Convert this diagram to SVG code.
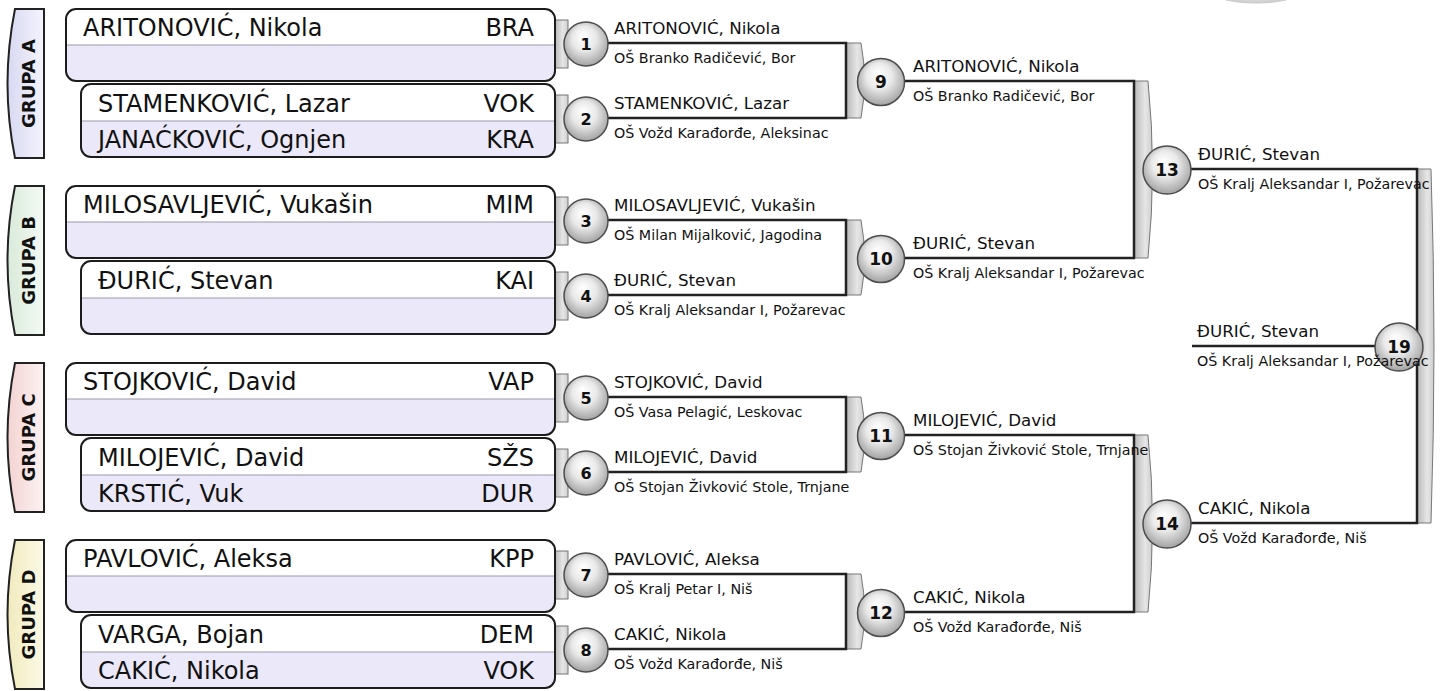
<svg xmlns="http://www.w3.org/2000/svg" width="1448" height="691" viewBox="0 0 1448 691">
<defs>
<radialGradient id="gc" cx="50%" cy="45%" r="55%" fx="42%" fy="30%">
<stop offset="0" stop-color="#ffffff"/>
<stop offset="0.5" stop-color="#e9e9e9"/>
<stop offset="1" stop-color="#a3a3a3"/>
</radialGradient>
<linearGradient id="gb" x1="0" y1="0" x2="1" y2="0">
<stop offset="0" stop-color="#b8b8b8"/>
<stop offset="0.6" stop-color="#e6e6e6"/>
<stop offset="1" stop-color="#cdcdcd"/>
</linearGradient>
<linearGradient id="tA" x1="0" y1="0" x2="1" y2="0"><stop offset="0" stop-color="#d8d8f2"/><stop offset="1" stop-color="#f4f4fe"/></linearGradient>
<linearGradient id="tB" x1="0" y1="0" x2="1" y2="0"><stop offset="0" stop-color="#d9eadb"/><stop offset="1" stop-color="#f4faf4"/></linearGradient>
<linearGradient id="tC" x1="0" y1="0" x2="1" y2="0"><stop offset="0" stop-color="#f3d3d3"/><stop offset="1" stop-color="#fdf2f2"/></linearGradient>
<linearGradient id="tD" x1="0" y1="0" x2="1" y2="0"><stop offset="0" stop-color="#f1eabf"/><stop offset="1" stop-color="#fcfae6"/></linearGradient>
</defs>
<style>
text{font-family:'DejaVu Sans','Liberation Sans',sans-serif;fill:#111}
.tab{stroke:#222;stroke-width:2}
.gt{font-weight:bold;font-size:18px;text-anchor:middle}
.bot{fill:#ebe8f9}
.top{fill:#ffffff}
.dv{stroke:#9a98ab;stroke-width:1}
.bx{fill:none;stroke:#1c1c1c;stroke-width:2}
.nm{font-size:24px}
.cd{font-size:24px;text-anchor:end}
.ln{fill:none;stroke:#222;stroke-width:2.5}
.br{fill:url(#gb);stroke:#777;stroke-width:1}
.cc{fill:url(#gc);stroke:#4d4d4d;stroke-width:1.5}
.num{font-weight:bold;font-size:16px;text-anchor:middle}
.num2{font-weight:bold;font-size:17px;text-anchor:middle}
.pn{font-size:16.7px}
.sc{font-size:14.3px}
</style>
<rect x="0" y="0" width="1448" height="691" fill="#ffffff"/>
<ellipse cx="1256" cy="-6" rx="40" ry="9" fill="url(#gc)" stroke="#aaa" stroke-width="1" opacity="0.6"/>

<g id="connectors">
<rect class="br" x="555" y="20" width="13" height="48"/>
<rect class="br" x="555" y="95" width="13" height="48"/>
<rect class="br" x="555" y="197" width="13" height="48"/>
<rect class="br" x="555" y="272" width="13" height="48"/>
<rect class="br" x="555" y="374" width="13" height="48"/>
<rect class="br" x="555" y="449" width="13" height="48"/>
<rect class="br" x="555" y="551" width="13" height="48"/>
<rect class="br" x="555" y="626" width="13" height="48"/>
<path class="br" d="M846,43 H861 Q868,80.5 861,118 H846 Z"/>
<path class="br" d="M846,220 H861 Q868,257.5 861,295 H846 Z"/>
<path class="br" d="M846,397 H861 Q868,434.5 861,472 H846 Z"/>
<path class="br" d="M846,574 H861 Q868,611.5 861,649 H846 Z"/>
<path class="br" d="M1134,81 H1148 Q1157,169.5 1148,258 H1134 Z"/>
<path class="br" d="M1134,435 H1148 Q1157,523.5 1148,612 H1134 Z"/>
<path class="br" d="M1417,169 H1431 Q1437,346 1431,523 H1417 Z"/>
<path class="ln" d="M600,43 H846 V118 H600"/>
<path class="ln" d="M600,220 H846 V295 H600"/>
<path class="ln" d="M600,397 H846 V472 H600"/>
<path class="ln" d="M600,574 H846 V649 H600"/>
<path class="ln" d="M895,81 H1134 V258 H895"/>
<path class="ln" d="M895,435 H1134 V612 H895"/>
<path class="ln" d="M1180,169 H1417 V523 H1180"/>
<path class="ln" d="M1192,346 H1390"/>
</g>

<g id="grupa-a">
<g id="tab-a"><path class="tab" fill="url(#tA)" d="M44,9 H15 Q0,83.5 15,158 H44 Z"/><text class="gt" x="35" y="83.5" transform="rotate(-90 35 83.5)">GRUPA A</text></g>
<g id="box-a1"><rect class="bot" x="66" y="9" width="489" height="72" rx="10"/><path class="top" d="M76,9 H545 Q555,9 555,19 V45 H66 V19 Q66,9 76,9 Z"/><line class="dv" x1="66" y1="45" x2="555" y2="45"/><rect class="bx" x="66" y="9" width="489" height="72" rx="10"/>
<text class="nm" x="83" y="36">ARITONOVIĆ, Nikola</text><text class="cd" x="534" y="36">BRA</text></g>
<g id="box-a2"><rect class="bot" x="81" y="84" width="474" height="73" rx="10"/><path class="top" d="M91,84 H545 Q555,84 555,94 V121 H81 V94 Q81,84 91,84 Z"/><line class="dv" x1="81" y1="121" x2="555" y2="121"/><rect class="bx" x="81" y="84" width="474" height="73" rx="10"/>
<text class="nm" x="98" y="112">STAMENKOVIĆ, Lazar</text><text class="cd" x="534" y="112">VOK</text>
<text class="nm" x="98" y="148">JANAĆKOVIĆ, Ognjen</text><text class="cd" x="534" y="148">KRA</text></g>
</g>

<g id="grupa-b" transform="translate(0,177)">
<g id="tab-b"><path class="tab" fill="url(#tB)" d="M44,9 H15 Q0,83.5 15,158 H44 Z"/><text class="gt" x="35" y="83.5" transform="rotate(-90 35 83.5)">GRUPA B</text></g>
<g id="box-b1"><rect class="bot" x="66" y="9" width="489" height="72" rx="10"/><path class="top" d="M76,9 H545 Q555,9 555,19 V45 H66 V19 Q66,9 76,9 Z"/><line class="dv" x1="66" y1="45" x2="555" y2="45"/><rect class="bx" x="66" y="9" width="489" height="72" rx="10"/>
<text class="nm" x="83" y="36">MILOSAVLJEVIĆ, Vukašin</text><text class="cd" x="534" y="36">MIM</text></g>
<g id="box-b2"><rect class="bot" x="81" y="84" width="474" height="73" rx="10"/><path class="top" d="M91,84 H545 Q555,84 555,94 V121 H81 V94 Q81,84 91,84 Z"/><line class="dv" x1="81" y1="121" x2="555" y2="121"/><rect class="bx" x="81" y="84" width="474" height="73" rx="10"/>
<text class="nm" x="98" y="112">ĐURIĆ, Stevan</text><text class="cd" x="534" y="112">KAI</text></g>
</g>

<g id="grupa-c" transform="translate(0,354)">
<g id="tab-c"><path class="tab" fill="url(#tC)" d="M44,9 H15 Q0,83.5 15,158 H44 Z"/><text class="gt" x="35" y="83.5" transform="rotate(-90 35 83.5)">GRUPA C</text></g>
<g id="box-c1"><rect class="bot" x="66" y="9" width="489" height="72" rx="10"/><path class="top" d="M76,9 H545 Q555,9 555,19 V45 H66 V19 Q66,9 76,9 Z"/><line class="dv" x1="66" y1="45" x2="555" y2="45"/><rect class="bx" x="66" y="9" width="489" height="72" rx="10"/>
<text class="nm" x="83" y="36">STOJKOVIĆ, David</text><text class="cd" x="534" y="36">VAP</text></g>
<g id="box-c2"><rect class="bot" x="81" y="84" width="474" height="73" rx="10"/><path class="top" d="M91,84 H545 Q555,84 555,94 V121 H81 V94 Q81,84 91,84 Z"/><line class="dv" x1="81" y1="121" x2="555" y2="121"/><rect class="bx" x="81" y="84" width="474" height="73" rx="10"/>
<text class="nm" x="98" y="112">MILOJEVIĆ, David</text><text class="cd" x="534" y="112">SŽS</text>
<text class="nm" x="98" y="148">KRSTIĆ, Vuk</text><text class="cd" x="534" y="148">DUR</text></g>
</g>

<g id="grupa-d" transform="translate(0,531)">
<g id="tab-d"><path class="tab" fill="url(#tD)" d="M44,9 H15 Q0,83.5 15,158 H44 Z"/><text class="gt" x="35" y="83.5" transform="rotate(-90 35 83.5)">GRUPA D</text></g>
<g id="box-d1"><rect class="bot" x="66" y="9" width="489" height="72" rx="10"/><path class="top" d="M76,9 H545 Q555,9 555,19 V45 H66 V19 Q66,9 76,9 Z"/><line class="dv" x1="66" y1="45" x2="555" y2="45"/><rect class="bx" x="66" y="9" width="489" height="72" rx="10"/>
<text class="nm" x="83" y="36">PAVLOVIĆ, Aleksa</text><text class="cd" x="534" y="36">KPP</text></g>
<g id="box-d2"><rect class="bot" x="81" y="84" width="474" height="73" rx="10"/><path class="top" d="M91,84 H545 Q555,84 555,94 V121 H81 V94 Q81,84 91,84 Z"/><line class="dv" x1="81" y1="121" x2="555" y2="121"/><rect class="bx" x="81" y="84" width="474" height="73" rx="10"/>
<text class="nm" x="98" y="112">VARGA, Bojan</text><text class="cd" x="534" y="112">DEM</text>
<text class="nm" x="98" y="148">CAKIĆ, Nikola</text><text class="cd" x="534" y="148">VOK</text></g>
</g>

<g id="m1"><circle class="cc" cx="586" cy="44" r="22"/><text class="num" x="586" y="50">1</text><text class="pn" x="614" y="34">ARITONOVIĆ, Nikola</text><text class="sc" x="614" y="63">OŠ Branko Radičević, Bor</text></g>
<g id="m2"><circle class="cc" cx="586" cy="119" r="22"/><text class="num" x="586" y="125">2</text><text class="pn" x="614" y="109">STAMENKOVIĆ, Lazar</text><text class="sc" x="614" y="138">OŠ Vožd Karađorđe, Aleksinac</text></g>
<g id="m3"><circle class="cc" cx="586" cy="221" r="22"/><text class="num" x="586" y="227">3</text><text class="pn" x="614" y="211">MILOSAVLJEVIĆ, Vukašin</text><text class="sc" x="614" y="240">OŠ Milan Mijalković, Jagodina</text></g>
<g id="m4"><circle class="cc" cx="586" cy="296" r="22"/><text class="num" x="586" y="302">4</text><text class="pn" x="614" y="286">ĐURIĆ, Stevan</text><text class="sc" x="614" y="315">OŠ Kralj Aleksandar I, Požarevac</text></g>
<g id="m5"><circle class="cc" cx="586" cy="398" r="22"/><text class="num" x="586" y="404">5</text><text class="pn" x="614" y="388">STOJKOVIĆ, David</text><text class="sc" x="614" y="417">OŠ Vasa Pelagić, Leskovac</text></g>
<g id="m6"><circle class="cc" cx="586" cy="473" r="22"/><text class="num" x="586" y="479">6</text><text class="pn" x="614" y="463">MILOJEVIĆ, David</text><text class="sc" x="614" y="492">OŠ Stojan Živković Stole, Trnjane</text></g>
<g id="m7"><circle class="cc" cx="586" cy="575" r="22"/><text class="num" x="586" y="581">7</text><text class="pn" x="614" y="565">PAVLOVIĆ, Aleksa</text><text class="sc" x="614" y="594">OŠ Kralj Petar I, Niš</text></g>
<g id="m8"><circle class="cc" cx="586" cy="650" r="22"/><text class="num" x="586" y="656">8</text><text class="pn" x="614" y="640">CAKIĆ, Nikola</text><text class="sc" x="614" y="669">OŠ Vožd Karađorđe, Niš</text></g>
<g id="m9"><circle class="cc" cx="881" cy="82" r="23.5"/><text class="num2" x="881" y="88">9</text><text class="pn" x="913" y="72">ARITONOVIĆ, Nikola</text><text class="sc" x="913" y="101">OŠ Branko Radičević, Bor</text></g>
<g id="m10"><circle class="cc" cx="881" cy="259" r="23.5"/><text class="num2" x="881" y="265">10</text><text class="pn" x="913" y="249">ĐURIĆ, Stevan</text><text class="sc" x="913" y="278">OŠ Kralj Aleksandar I, Požarevac</text></g>
<g id="m11"><circle class="cc" cx="881" cy="436" r="23.5"/><text class="num2" x="881" y="442">11</text><text class="pn" x="913" y="426">MILOJEVIĆ, David</text><text class="sc" x="913" y="455">OŠ Stojan Živković Stole, Trnjane</text></g>
<g id="m12"><circle class="cc" cx="881" cy="613" r="23.5"/><text class="num2" x="881" y="619">12</text><text class="pn" x="913" y="603">CAKIĆ, Nikola</text><text class="sc" x="913" y="632">OŠ Vožd Karađorđe, Niš</text></g>
<g id="m13"><circle class="cc" cx="1167" cy="170" r="24"/><text class="num2" x="1167" y="176">13</text><text class="pn" x="1198" y="160">ĐURIĆ, Stevan</text><text class="sc" x="1198" y="189">OŠ Kralj Aleksandar I, Požarevac</text></g>
<g id="m14"><circle class="cc" cx="1167" cy="524" r="24"/><text class="num2" x="1167" y="530">14</text><text class="pn" x="1198" y="514">CAKIĆ, Nikola</text><text class="sc" x="1198" y="543">OŠ Vožd Karađorđe, Niš</text></g>
<g id="m19"><circle class="cc" cx="1399" cy="347" r="24"/><text class="num2" x="1399" y="353">19</text><text class="pn" x="1197" y="337">ĐURIĆ, Stevan</text><text class="sc" x="1197" y="366">OŠ Kralj Aleksandar I, Požarevac</text></g>
</svg>
